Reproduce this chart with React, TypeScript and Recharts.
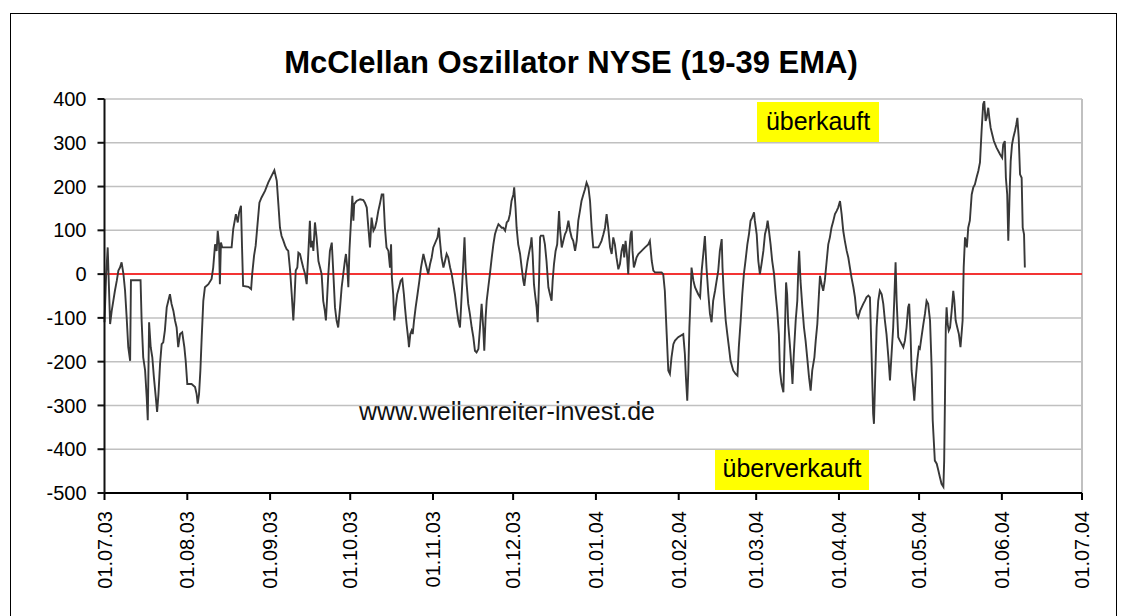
import React from "react";
import {
  LineChart,
  Line,
  XAxis,
  YAxis,
  CartesianGrid,
  ReferenceLine,
} from "recharts";

// days counted from 01.07.2003
const daysJulSep03 = [
  0.0, 0.6, 1.2, 2.1, 2.7, 3.3, 3.9, 4.6, 5.2, 5.8,
  6.4, 7.1, 7.7, 8.3, 8.9, 9.6, 9.9, 13.5, 13.9, 14.5,
  15.2, 15.8, 16.2, 16.7, 17.3, 17.9, 18.5, 19.2, 19.7, 20.2,
  20.8, 21.4, 22.0, 22.6, 23.3, 23.9, 24.5, 25.1, 25.8, 26.4,
  27.0, 27.6, 28.3, 29.1, 29.9, 30.4, 31.0, 32.6, 33.9, 34.5,
  34.9, 35.4, 35.9, 36.4, 37.0, 37.6, 38.9, 40.1, 40.7, 41.4,
  42.0, 42.4, 42.9, 43.2, 43.6, 44.1, 47.6, 48.2, 49.2, 49.9,
  50.4, 51.1, 51.5, 51.9, 53.9, 54.9, 55.3, 56.0, 56.6, 57.3,
  58.0, 58.8, 60.1, 61.3, 62.6, 63.6, 64.5, 65.1, 65.7, 66.3,
  67.0, 67.6, 68.2, 68.8, 69.5, 70.1, 70.7, 71.1, 71.6, 72.2,
  72.6, 73.2, 73.8, 74.4, 75.1, 75.7, 76.3, 76.9, 77.3, 77.8,
  78.2, 78.8, 79.4, 80.1, 80.7, 81.3, 81.9, 82.5, 82.9, 83.3,
  83.8, 84.4, 85.1, 85.7, 86.3, 86.9, 87.5, 88.2, 88.8, 89.4,
  90.0, 90.4, 90.9, 91.3, 91.7,
];
const valuesJulSep03 = [
  -110, -4, 61, -114, -84, -61, -38, -15, 8, 15,
  27, 0, -38, -99, -167, -198, -14, -14, -106, -190,
  -220, -281, -334, -110, -167, -190, -236, -281, -315, -274,
  -205, -160, -156, -129, -76, -61, -46, -68, -84, -106,
  -122, -167, -137, -133, -167, -198, -251, -251, -258, -274,
  -296, -274, -220, -144, -61, -30, -23, -11, 15, 68,
  53, 99, 68, -23, 72, 61, 61, 103, 137, 118,
  141, 156, 61, -27, -29, -34, 0, 42, 65, 114,
  163, 175, 190, 209, 225, 237, 213, 160, 106, 87,
  76, 65, 57, 53, 8, -46, -106, -61, 8, 15,
  49, 46, 30, 15, 0, -23, 46, 122, 61, 76,
  53, 118, 84, 30, 15, 0, -61, -84, -106, -61,
  0, 53, 72, 0, -76, -106, -122, -76, -30, 0,
  30, 46, 15, -30, 53,
];

const daysOctDec03 = [
  92.3, 92.8, 93.2, 93.5, 94.4, 95.7, 96.9, 97.5, 98.2, 98.8,
  99.4, 100.0, 100.7, 101.3, 101.9, 102.5, 103.1, 103.8, 104.4, 105.0,
  105.6, 106.3, 106.9, 107.3, 107.6, 108.1, 108.5, 109.0, 109.6, 110.3,
  110.9, 111.5, 112.1, 112.5, 113.1, 113.8, 114.0, 114.5, 115.0, 115.4,
  115.9, 116.5, 117.2, 117.9, 118.5, 119.4, 120.0, 120.6, 121.2, 121.9,
  122.5, 123.1, 124.7, 125.2, 125.6, 126.2, 126.9, 127.5, 128.1, 128.7,
  129.4, 130.0, 130.6, 131.2, 131.8, 132.5, 133.1, 133.5, 134.0, 134.5,
  134.8, 135.2, 135.6, 136.2, 136.8, 137.5, 138.1, 138.7, 139.3, 140.0,
  140.6, 141.2, 141.8, 142.2, 142.7, 143.1, 143.7, 144.3, 145.0, 145.6,
  146.2, 146.8, 147.5, 148.1, 148.7, 149.3, 150.0, 150.6, 151.2, 151.8,
  152.4, 153.1, 153.4, 153.9, 154.3, 154.9, 155.6, 156.2, 156.8, 157.2,
  157.7, 158.4, 159.1, 159.6, 159.9, 160.3, 160.8, 161.2, 161.8, 162.2,
  162.7, 163.1, 163.4, 164.3, 164.9, 165.5, 166.2, 166.8, 167.4, 167.8,
  168.3, 168.9, 169.5, 170.2, 170.5, 171.2, 171.8, 172.4, 173.0, 173.7,
  174.3, 174.9, 175.5, 176.2, 176.8, 177.4, 178.0, 178.6, 179.3, 179.9,
  180.5, 181.2, 181.8, 182.4, 183.0, 183.6,
];
const valuesOctDec03 = [
  122, 179, 122, 160, 167, 171, 169, 163, 152, 106,
  61, 129, 99, 106, 122, 144, 160, 182, 182, 106,
  61, 53, 15, 68, -8, -46, -106, -76, -46, -30,
  -15, -11, -46, -76, -114, -152, -167, -137, -129, -137,
  -106, -76, -46, -15, 15, 46, 30, 15, 0, 23,
  38, 61, 84, 106, 76, 38, 15, 30, 46, 38,
  15, 0, -23, -46, -76, -106, -122, -76, -15, 46,
  84, 15, -23, -68, -91, -122, -144, -175, -179, -171,
  -122, -68, -122, -175, -99, -61, -30, 0, 38, 68,
  91, 103, 114, 110, 106, 106, 99, 118, 122, 137,
  167, 182, 198, 152, 106, 68, 46, 15, -15, -27,
  0, 30, 53, 68, 84, 46, -23, -46, -76, -110,
  -15, 84, 88, 88, 68, 30, -30, -46, -61, -15,
  23, 53, 68, 144, 106, 61, 76, 91, 99, 122,
  99, 84, 76, 53, 76, 122, 144, 167, 182, 194,
  209, 198, 167, 106, 61, 61,
];

const daysJanMar04 = [
  184.9, 185.5, 186.1, 186.8, 187.4, 188.0, 188.6, 189.3, 189.9, 190.5,
  191.1, 191.7, 192.4, 193.0, 193.6, 194.2, 194.6, 195.1, 195.6, 196.1,
  196.5, 197.0, 197.4, 197.7, 198.2, 198.6, 199.2, 199.9, 201.1, 202.4,
  203.6, 204.2, 204.9, 205.5, 206.1, 208.6, 209.2, 209.8, 210.5, 211.1,
  211.7, 212.3, 213.0, 213.6, 214.8, 216.7, 217.3, 217.7, 218.2, 218.6,
  219.0, 219.3, 219.8, 220.5, 221.1, 221.7, 222.3, 223.0, 223.6, 224.2,
  224.8, 225.4, 226.1, 226.7, 227.3, 227.9, 228.6, 229.2, 229.8, 230.4,
  231.1, 231.4, 231.9, 232.6, 233.2, 233.8, 234.4, 235.4, 236.3, 237.0,
  237.5, 238.2, 238.8, 239.4, 240.0, 240.7, 241.3, 241.9, 242.5, 243.2,
  243.5, 244.2, 244.8, 245.4, 246.0, 246.7, 247.3, 247.9, 248.3, 248.8,
  249.4, 250.0, 250.7, 251.3, 251.9, 252.5, 252.9, 253.5, 254.2, 254.8,
  255.2, 255.6, 256.0, 256.6, 257.3, 257.6, 258.1, 258.8, 259.4, 259.8,
  260.1, 260.6, 261.3, 261.9, 262.5, 263.1, 263.8, 264.4, 265.0, 265.8,
  266.3, 266.9, 267.5, 267.9, 268.5, 269.1, 269.7, 270.4, 271.0, 271.6,
  272.2, 272.9, 273.5, 274.1, 274.7,
];
const valuesJanMar04 = [
  61, 68, 76, 91, 106, 137, 106, 61, 46, 84,
  68, 38, 11, 23, 53, 68, 38, 76, 46, 0,
  53, 91, 99, 53, 15, 23, 38, 46, 53, 61,
  68, 76, 30, 8, 4, 4, 0, -38, -137, -220,
  -228, -190, -160, -152, -144, -137, -182, -236, -289, -220,
  -122, -76, 15, -15, -30, -38, -46, -53, 8, 46,
  87, 15, -46, -91, -110, -61, -38, -15, 8, 53,
  80, 15, -46, -106, -137, -167, -198, -220, -228, -232,
  -167, -106, -46, 0, 30, 68, 91, 122, 129, 141,
  122, 91, 30, 0, 23, 53, 91, 106, 122, 99,
  68, 30, 0, -46, -84, -137, -220, -251, -270, -122,
  -19, -46, -114, -160, -220, -251, -182, -106, -61, 15,
  53, -15, -76, -122, -152, -190, -236, -266, -220, -190,
  -152, -114, -46, -4, -23, -38, -15, 30, 68, 84,
  106, 122, 137, 144, 152,
];

const daysAprJun04 = [
  275.4, 276.0, 276.6, 277.2, 277.9, 278.5, 279.1, 279.7, 280.4, 281.0,
  281.6, 282.2, 282.9, 283.5, 284.1, 284.7, 285.3, 286.0, 286.6, 287.2,
  287.8, 288.1, 288.5, 289.1, 289.7, 290.3, 291.0, 291.6, 292.2, 292.8,
  293.5, 294.1, 294.7, 295.3, 295.7, 296.2, 296.6, 297.2, 297.8, 298.5,
  299.1, 299.7, 300.3, 300.9, 301.3, 301.8, 302.2, 302.8, 303.2, 303.7,
  304.3, 304.9, 305.3, 305.9, 306.6, 307.2, 307.8, 308.4, 309.1, 309.7,
  310.1, 310.9, 311.6, 312.2, 312.8, 313.4, 314.1, 314.4, 314.7, 315.0,
  315.3, 315.7, 316.1, 316.6, 317.2, 317.8, 318.2, 318.7, 319.3, 319.9,
  320.5, 320.9, 321.3, 321.7, 322.2, 322.5, 322.9, 323.4, 324.0, 324.7,
  325.3, 325.9, 326.5, 327.2, 327.8, 328.4, 329.0, 329.4, 329.9, 330.3,
  330.9, 331.3, 331.8, 332.4, 333.0, 334.0, 335.3, 336.1, 336.5, 337.1,
  337.5, 338.0, 338.4, 338.8, 339.0, 339.3, 339.8, 340.3, 340.9, 341.4,
  341.8, 342.3, 342.8, 343.4, 343.8, 344.3, 344.6,
];
const valuesAprJun04 = [
  167, 137, 99, 76, 53, 38, 15, -8, -30, -53,
  -91, -99, -84, -76, -68, -61, -53, -49, -53, -182,
  -319, -342, -251, -122, -61, -38, -46, -68, -106, -137,
  -190, -243, -182, -122, -61, 27, -61, -144, -152, -160,
  -167, -152, -122, -76, -68, -137, -220, -258, -289, -243,
  -198, -167, -170, -144, -114, -91, -61, -68, -106, -213,
  -334, -426, -433, -448, -464, -479, -486, -426, -281, -122,
  -76, -114, -129, -122, -84, -38, -61, -106, -122, -137,
  -167, -137, -106, 15, 84, 76, 61, 106, 122, 182,
  198, 205, 220, 236, 255, 327, 388, 395, 350, 357,
  380, 357, 334, 319, 304, 289, 274, 266, 296, 304,
  220, 182, 76, 160, 205, 258, 296, 312, 327, 342,
  357, 312, 228, 220, 106, 91, 15,
];

// month starts on the time axis
const monthTicks = [0, 31, 62, 92, 123, 153, 184, 215, 244, 275, 305, 336, 366];
const monthLabels = [
  "01.07.03", "01.08.03", "01.09.03", "01.10.03", "01.11.03", "01.12.03",
  "01.01.04", "01.02.04", "01.03.04", "01.04.04", "01.05.04", "01.06.04", "01.07.04",
];
const valueTicks = [-500, -400, -300, -200, -100, 0, 100, 200, 300, 400];

const allDays = [...daysJulSep03, ...daysOctDec03, ...daysJanMar04, ...daysAprJun04];
const allValues = [...valuesJulSep03, ...valuesOctDec03, ...valuesJanMar04, ...valuesAprJun04];
const data = allDays.map((day, i) => ({ day, value: allValues[i] }));

const FONT = "'Liberation Sans', Arial, sans-serif";

function DateTick({ x, y, payload }: { x?: number; y?: number; payload?: { value: number } }) {
  const idx = monthTicks.indexOf(payload?.value ?? -1);
  return (
    <text
      x={x}
      y={y}
      transform={`rotate(-90 ${x} ${y})`}
      textAnchor="end"
      dy="0.36em"
      fill="#000"
      fontSize={20}
      fontFamily={FONT}
    >
      {monthLabels[idx]}
    </text>
  );
}

export default function App() {
  return (
    <div style={{ position: "absolute", left: 0, top: 0, width: 1121, height: 616, background: "#fff" }}>
      {/* frame, title and notes behind the chart */}
      <svg width={1121} height={616} style={{ position: "absolute", left: 0, top: 0 }}>
        <rect x={10.5} y={13.5} width={1106} height={640} fill="#fff" stroke="#000" strokeWidth={1} />
        <text x={571} y={73} textAnchor="middle" fontSize={31} fontWeight="bold" fontFamily={FONT} fill="#000">
          McClellan Oszillator NYSE (19-39 EMA)
        </text>
        <rect x={757} y={102} width={122} height={41} fill="#ffff00" />
        <text x={818} y={130} textAnchor="middle" fontSize={25} fontFamily={FONT} fill="#000">
          überkauft
        </text>
        <rect x={715} y={449} width={154} height={41} fill="#ffff00" />
        <text x={792} y={477} textAnchor="middle" fontSize={25} fontFamily={FONT} fill="#000">
          überverkauft
        </text>
        <text x={507} y={420} textAnchor="middle" fontSize={25} fontFamily={FONT} fill="#111">
          www.wellenreiter-invest.de
        </text>
      </svg>
      <div style={{ position: "absolute", left: 0, top: 0 }}>
        <LineChart
          width={1121}
          height={616}
          data={data}
          margin={{ top: 99, right: 39, bottom: 23, left: 44.5 }}
        >
          <CartesianGrid horizontal vertical={false} stroke="#c0c0c0" strokeWidth={1.5} />
          <XAxis
            dataKey="day"
            type="number"
            domain={[0, 366]}
            ticks={monthTicks}
            interval={0}
            height={100}
            tickSize={7}
            tickMargin={11}
            axisLine={{ stroke: "#000", strokeWidth: 2 }}
            tickLine={{ stroke: "#000", strokeWidth: 2 }}
            tick={<DateTick />}
          />
          <YAxis
            type="number"
            domain={[-500, 400]}
            ticks={valueTicks}
            interval={0}
            width={60}
            tickSize={7}
            tickMargin={11}
            axisLine={{ stroke: "#111", strokeWidth: 2 }}
            tickLine={{ stroke: "#111", strokeWidth: 2 }}
            tick={{ fill: "#000", fontSize: 20, fontFamily: FONT }}
          />
          <ReferenceLine x={366} stroke="#c0c0c0" strokeWidth={2} />
          <ReferenceLine y={0} stroke="#ff0000" strokeWidth={1.5} />
          <Line
            type="linear"
            dataKey="value"
            stroke="#383838"
            strokeWidth={1.9}
            dot={false}
            isAnimationActive={false}
          />
        </LineChart>
      </div>
    </div>
  );
}
